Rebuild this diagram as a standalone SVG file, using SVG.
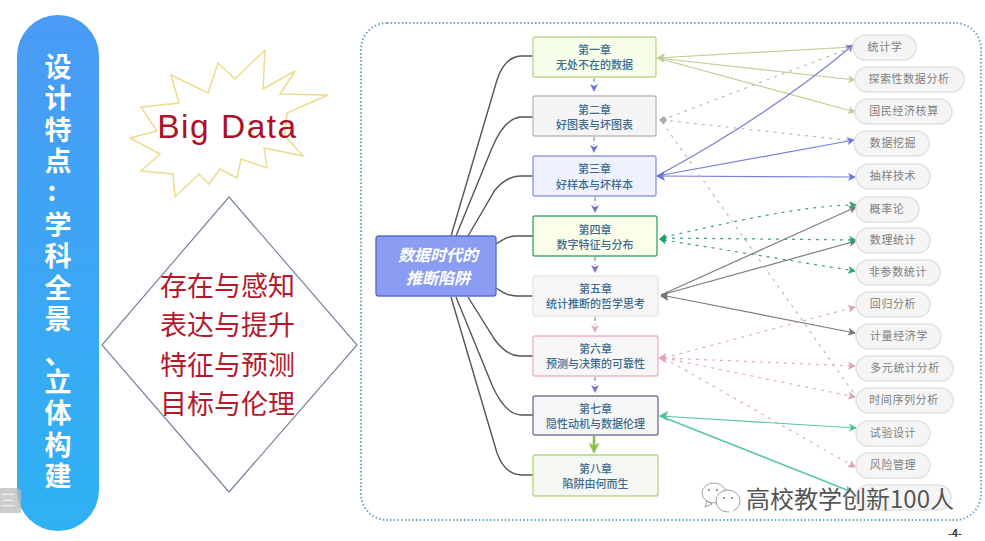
<svg xmlns="http://www.w3.org/2000/svg" width="985" height="541" viewBox="0 0 985 541">
<style>
text{font-family:"Noto Sans CJK SC","Liberation Sans",sans-serif;text-anchor:middle}
.ch{font-size:11px;fill:#3f6a8e;font-weight:500}
.chr{stroke-width:1.4}
.pill rect{fill:#f5f5f5;stroke:#e2e2e2;stroke-width:1.6}
.pill text{font-size:11px;fill:#808080;letter-spacing:.6px}
.red{font-size:27px;fill:#b41a2c}
.side{font-size:27px;fill:#fff;font-weight:700}
.vt{writing-mode:vertical-rl;text-orientation:upright;text-anchor:start;letter-spacing:4.5px}
.tree{fill:none;stroke:#555;stroke-width:1.4}
.l{fill:none;stroke-width:1.2}
.d{stroke-dasharray:3 5}
.v{stroke:#8d8fa8}
.g1{stroke:#bfcf96}.g2{stroke:#bbb}.g3{stroke:#7a80d8}.g4{stroke:#3aa578}.g5{stroke:#7d7d7d}.g6{stroke:#e0aebb}.g7{stroke:#5cc4a8}
</style>
<defs>
<linearGradient id="pg" x1="0" y1="0" x2="0" y2="1"><stop offset="0" stop-color="#4a9bf5"/><stop offset="1" stop-color="#2eb2f4"/></linearGradient>
<marker id="a1" markerUnits="userSpaceOnUse" viewBox="0 0 8 8" markerWidth="8" markerHeight="8" refX="7" refY="4" orient="auto"><path d="M0 0L8 4L0 8L2 4Z" fill="#bfcf96"/></marker>
<marker id="a3" markerUnits="userSpaceOnUse" viewBox="0 0 8 8" markerWidth="8" markerHeight="8" refX="7" refY="4" orient="auto"><path d="M0 0L8 4L0 8L2 4Z" fill="#6f76d8"/></marker>
<marker id="a4" markerUnits="userSpaceOnUse" viewBox="0 0 8 8" markerWidth="8" markerHeight="8" refX="7" refY="4" orient="auto"><path d="M0 0L8 4L0 8L2 4Z" fill="#2da56e"/></marker>
<marker id="a5" markerUnits="userSpaceOnUse" viewBox="0 0 8 8" markerWidth="8" markerHeight="8" refX="7" refY="4" orient="auto"><path d="M0 0L8 4L0 8L2 4Z" fill="#777"/></marker>
<marker id="a6" markerUnits="userSpaceOnUse" viewBox="0 0 8 8" markerWidth="8" markerHeight="8" refX="7" refY="4" orient="auto"><path d="M0 0L8 4L0 8L2 4Z" fill="#e0a0b5"/></marker>
<marker id="a7" markerUnits="userSpaceOnUse" viewBox="0 0 8 8" markerWidth="8" markerHeight="8" refX="7" refY="4" orient="auto"><path d="M0 0L8 4L0 8L2 4Z" fill="#4cc0a0"/></marker>
<marker id="ag" markerUnits="userSpaceOnUse" viewBox="0 0 6 6" markerWidth="11" markerHeight="11" refX="5" refY="3" orient="auto"><path d="M0 0L6 3L0 6L1.500 3Z" fill="#8bc34a"/></marker>
</defs>
<rect width="985" height="541" fill="#fff"/>

<g id="sidebar">
<rect x="17" y="15" width="82" height="516" rx="41" fill="url(#pg)"/>
<text class="side vt" x="58" y="53">设计特点</text>
<text class="side" x="52" y="201">:</text>
<text class="side vt" x="58" y="211">学科全景</text>
<text class="side" x="58" y="364">、</text>
<text class="side vt" x="58" y="368">立体构建</text>
</g>
<g id="corner"><path d="M0 488H16Q20 488 21 491V513H0Z" fill="#bbb" opacity=".75"/><text x="8" y="506" font-size="16" fill="#eee">三</text></g>

<g id="bigdata">
<polygon points="265,50 235,79 218,63 208,93 171,75 179,103 141,107 157,131 130,138 160,154 141,171 173,174 175,197 199,174 209,184 220,169 237,178 241,159 267,168 264,148 303,156 285,136 287,113 328,95 280,94 295,71 263,89" fill="#fff" stroke="#ecdc8c" stroke-width="1.500"/>
<text x="227.500" y="137.500" style='font-family:"Liberation Sans",sans-serif' font-size="33.500" letter-spacing="1.500" fill="#ac1226">Big Data</text>
</g>
<g id="diamond">
<polygon points="229,197 357,345 229,492 102,345" fill="#fff" stroke="#76869c" stroke-width="1.200"/>
<text class="red" x="227.500" y="296">存在与感知</text><text class="red" x="227.500" y="335">表达与提升</text><text class="red" x="227.500" y="375">特征与预测</text><text class="red" x="227.500" y="414">目标与伦理</text>
</g>

<rect id="frame" x="361" y="23" width="620" height="497" rx="26" fill="none" stroke="#6fa6bf" stroke-width="2" stroke-dasharray="1.500 2.200"/>

<g id="connectors">
<g class="tree">
<path d="M451 236L497 80Q505 56 522 56H533"/>
<path d="M456 236L492 148Q505 117 522 117H533"/>
<path d="M468 236L495 190Q507 176 520 176H533"/>
<path d="M496 244C503 240 507 236 517 236H533"/>
<path d="M496 288C503 292 507 296 517 296H533"/>
<path d="M468 297L495 340Q507 356 520 356H533"/>
<path d="M456 297L492 385Q505 415 522 415H533"/>
<path d="M451 297L497 453Q505 475 522 475H533"/>
</g>
<g class="l" stroke-dasharray="4 3">
<path class="v" d="M594 78V84"/><path d="M590 84L594 92L598 84L594 86Z" fill="#6f76d8"/>
<path class="v" d="M594 137V145"/><path d="M590 145L594 153L598 145L594 147Z" fill="#6f76d8"/>
<path class="v" d="M595 197V205"/><path d="M591 205L595 213L599 205L595 207Z" fill="#7c6fd0"/>
<path class="v" d="M595 257V265"/><path d="M591 265L595 273L599 265L595 267Z" fill="#7c6fd0"/>
<path class="v" d="M595 317V325"/><path d="M591 325L595 333L599 325L595 327Z" fill="#e8a8bc"/>
<path class="v" d="M595 377V385"/><path d="M591 385L595 393L599 385L595 387Z" fill="#7c6fd0"/>
</g>
<path d="M594 436V452" fill="none" stroke="#8bc34a" stroke-width="2.600" marker-end="url(#ag)"/>

<g class="l">
<path class="g1" d="M657 58L852 47" marker-end="url(#a1)"/>
<path class="g1" d="M657 58L855 80" marker-end="url(#a1)"/>
<path class="g1" d="M657 58L855 112" marker-end="url(#a1)"/>
<path d="M656 58l9-5-2 5 2 5z" fill="#bfcf96"/>
<path class="g3" d="M657 176Q770 115 853 45" marker-end="url(#a3)"/>
<path class="g3" d="M657 176L854 140" marker-end="url(#a3)"/>
<path class="g3" d="M657 176L855 177" marker-end="url(#a3)"/>
<path d="M656 176l9-5-2 5 2 5z" fill="#6f76d8"/>
<path class="g5" d="M661 295L856 207" marker-end="url(#a5)"/>
<path class="g5" d="M661 295L856 241" marker-end="url(#a5)"/>
<path class="g5" d="M661 295L855 333" marker-end="url(#a5)"/>
<path d="M660 296l8-5-1 5 1 5z" fill="#777"/>
<path class="g7" d="M660 416L856 428" marker-end="url(#a7)"/>
<path class="g7" d="M660 416L852 492" stroke-width="1.600" marker-end="url(#a7)"/>
<path d="M659 416l9-5-2 5 2 5z" fill="#4cc0a0"/>
</g>
<g class="l d">
<path class="g2" d="M662 120L853 47"/>
<path class="g2" d="M662 120L855 141"/>
<path class="g2" d="M662 122L855 395"/>
<path d="M659 120l5-4 3 4-3 4z" fill="#aaa"/>
<path class="g4" d="M664 237C720 225 800 205 856 205" marker-end="url(#a4)"/>
<path class="g4" d="M664 238L856 240" marker-end="url(#a4)"/>
<path class="g4" d="M664 240L855 271" marker-end="url(#a4)"/>
<path d="M659 239l6-5 1 5-1 5z" fill="#1fa060"/>
<path class="g6" d="M664 358L855 307" marker-end="url(#a6)"/>
<path class="g6" d="M664 358L855 366" marker-end="url(#a6)"/>
<path class="g6" d="M664 358L855 397" marker-end="url(#a6)"/>
<path class="g6" d="M664 358L855 467" marker-end="url(#a6)"/>
<path d="M658 358l8-5-1 5 1 5z" fill="#e8a0b8"/>
</g>
</g>

<g id="root"><rect x="376" y="236" width="120" height="60" rx="3" fill="#8b9cf3" stroke="#5b6fca" stroke-width="1.400"/>
<text x="438" y="261" font-size="16" font-style="italic" font-weight="700" fill="#fff">数据时代的</text><text x="438" y="284" font-size="16" font-style="italic" font-weight="700" fill="#fff">推断陷阱</text></g>

<g id="ch1"><rect class="chr" x="533" y="37" width="123" height="40" rx="2" fill="#f6fde8" stroke="#bcd98e"/><text class="ch" x="594.500" y="54">第一章</text><text class="ch" x="594.500" y="69">无处不在的数据</text></g>
<g id="ch2"><rect class="chr" x="533" y="96" width="123" height="40" rx="2" fill="#f5f5f5" stroke="#bbb"/><text class="ch" x="594.500" y="114">第二章</text><text class="ch" x="594.500" y="129">好图表与坏图表</text></g>
<g id="ch3"><rect class="chr" x="533" y="156" width="123" height="40" rx="2" fill="#eef2fe" stroke="#8f9ae0"/><text class="ch" x="594.500" y="173">第三章</text><text class="ch" x="594.500" y="189">好样本与坏样本</text></g>
<g id="ch4"><rect class="chr" x="533" y="216" width="124" height="40" rx="2" fill="#fbfee9" stroke="#45a870"/><text class="ch" x="595" y="234">第四章</text><text class="ch" x="595" y="249">数字特征与分布</text></g>
<g id="ch5"><rect class="chr" x="533" y="276" width="125" height="40" rx="2" fill="#f6f6f6" stroke="#e6e6e6"/><text class="ch" x="595.500" y="293">第五章</text><text class="ch" x="595.500" y="308">统计推断的哲学思考</text></g>
<g id="ch6"><rect class="chr" x="533" y="336" width="125" height="40" rx="2" fill="#f7f7f7" stroke="#efb4c4"/><text class="ch" x="595.500" y="353">第六章</text><text class="ch" x="595.500" y="368">预测与决策的可靠性</text></g>
<g id="ch7"><rect class="chr" x="533" y="396" width="125" height="39" rx="2" fill="#f6f6f6" stroke="#77779a"/><text class="ch" x="595.500" y="413">第七章</text><text class="ch" x="595.500" y="428">隐性动机与数据伦理</text></g>
<g id="ch8"><rect class="chr" x="533" y="455" width="125" height="41" rx="2" fill="#f5f7f2" stroke="#b6d68c"/><text class="ch" x="595.500" y="473">第八章</text><text class="ch" x="595.500" y="488">陷阱由何而生</text></g>

<g class="pill" id="p1"><rect x="853" y="35" width="63" height="25" rx="12.500"/><text x="885" y="51">统计学</text></g>
<g class="pill" id="p2"><rect x="855" y="67" width="109" height="25" rx="12.500"/><text x="909" y="83">探索性数据分析</text></g>
<g class="pill" id="p3"><rect x="855" y="99" width="97" height="25" rx="12.500"/><text x="904" y="115">国民经济核算</text></g>
<g class="pill" id="p4"><rect x="854" y="131" width="75" height="25" rx="12.500"/><text x="893" y="147">数据挖掘</text></g>
<g class="pill" id="p5"><rect x="856" y="164" width="74" height="25" rx="12.500"/><text x="893" y="180">抽样技术</text></g>
<g class="pill" id="p6"><rect x="856" y="197" width="63" height="25" rx="12.500"/><text x="887" y="213">概率论</text></g>
<g class="pill" id="p7"><rect x="856" y="228" width="74" height="25" rx="12.500"/><text x="893" y="244">数理统计</text></g>
<g class="pill" id="p8"><rect x="856" y="260" width="84" height="25" rx="12.500"/><text x="898" y="276">非参数统计</text></g>
<g class="pill" id="p9"><rect x="856" y="292" width="74" height="25" rx="12.500"/><text x="893" y="308">回归分析</text></g>
<g class="pill" id="p10"><rect x="856" y="324" width="85" height="25" rx="12.500"/><text x="899" y="340">计量经济学</text></g>
<g class="pill" id="p11"><rect x="856" y="356" width="97" height="25" rx="12.500"/><text x="905" y="372">多元统计分析</text></g>
<g class="pill" id="p12"><rect x="856" y="388" width="97" height="25" rx="12.500"/><text x="904" y="404">时间序列分析</text></g>
<g class="pill" id="p13"><rect x="856" y="421" width="74" height="25" rx="12.500"/><text x="893" y="437">试验设计</text></g>
<g class="pill" id="p14"><rect x="856" y="453" width="74" height="25" rx="12.500"/><text x="893" y="469">风险管理</text></g>
<g class="pill" id="p15"><rect x="856" y="485" width="95" height="25" rx="12.500"/></g>

<g id="watermark">
<g fill="#fff" stroke="#888" stroke-width=".8">
<ellipse cx="714" cy="493" rx="12" ry="10"/><path d="M707 501l-2 6 7-3z"/>
<ellipse cx="728" cy="501" rx="12" ry="11"/><path d="M733 510l3 5-8-3z" stroke="none"/>
</g>
<g fill="#777"><circle cx="709" cy="490" r="1"/><circle cx="717" cy="490" r="1"/><circle cx="724" cy="498" r="1"/><circle cx="732" cy="498" r="1"/></g>
<text x="850" y="508" font-size="24" fill="#555" stroke="#fff" stroke-width=".7" paint-order="stroke">高校教学创新100人</text>
</g>
<text x="955" y="537" font-size="10" font-weight="700" fill="#333">-4-</text>
</svg>
